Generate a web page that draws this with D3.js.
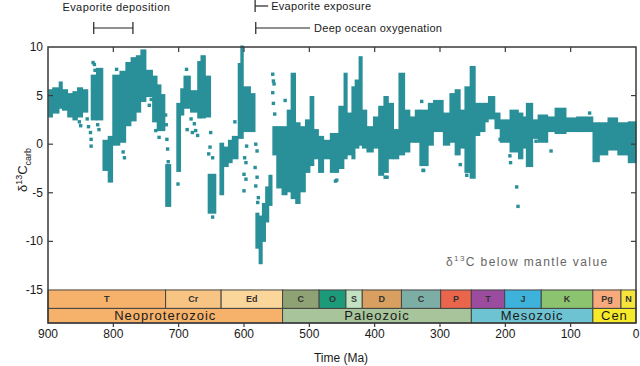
<!DOCTYPE html>
<html>
<head>
<meta charset="utf-8">
<script src="https://cdn.jsdelivr.net/npm/d3@7"></script>
<style>
  body { margin: 0; background: #fff; }
  svg { display: block; font-family: "Liberation Sans", Arial, sans-serif; }
</style>
</head>
<body>
<svg id="chart" width="640" height="366"></svg>
<script>
// δ13C carb envelope: [older age, younger age, low, high]
const neoproterozoicBands = [
  [899, 893, 2.9, 5.5], [893, 883, 3.3, 5.7], [883, 878, 3.8, 6.3], [878, 870, 3.6, 5.5],
  [870, 862, 2.9, 5.1], [862, 855, 2.6, 5.3], [855, 847, 2.9, 5.7], [847, 839, 3.4, 5.5],
  [834, 826, 2.6, 7.0], [826, 816, 2.6, 7.7], [816, 808, -2.6, 0.3], [808, 801, -3.8, 0.7],
  [801, 790, 0.0, 7.0], [790, 781, 0.3, 7.4], [781, 773, 2.0, 8.3], [773, 765, 2.5, 8.8],
  [765, 758, 3.4, 9.0], [758, 750, 4.5, 9.6], [750, 740, 5.0, 7.5], [740, 733, 2.4, 6.9],
  [733, 727, 1.5, 6.0], [727, 721, 1.5, 5.0], [720, 712, -6.3, -2.2], [703, 697, -2.7, 4.1],
  [697, 692, 3.1, 5.6], [692, 682, 3.8, 6.9], [682, 671, 3.4, 5.4], [671, 666, 2.8, 8.4],
  [666, 659, 2.8, 9.0], [659, 651, 2.9, 6.9], [655, 643, -7.0, -3.2], [637, 631, -5.1, 0.0],
  [631, 624, -2.2, -0.4], [624, 618, -1.8, 0.3], [618, 609, -1.4, 0.7], [609, 605, 0.7, 8.2],
  [605, 601, 0.7, 10.0], [601, 590, 1.4, 5.8], [590, 583, 1.4, 5.1], [582, 577, -10.6, -7.2],
  [577, 572, -12.2, -7.5], [572, 567, -9.9, -6.2], [567, 562, -7.9, -4.5], [562, 557, -6.2, -3.3],
  [556, 550, -1.0, 1.7], [550, 542, -4.4, 1.7]
];
const paleozoicBands = [
  [542, 534, -5.1, 1.7], [534, 528, -4.8, 3.4], [528, 521, -5.5, 7.2], [521, 514, -6.0, 2.1],
  [514, 506, -4.8, 1.7], [506, 499, -2.8, 2.4], [499, 493, -2.1, 4.8], [493, 486, -1.4, 1.4],
  [486, 478, -2.8, 0.7], [478, 468, -1.4, 0.3], [468, 455, -2.8, 1.0], [455, 447, -2.4, 3.8],
  [447, 442, -1.4, 7.2], [442, 435, -1.0, 3.1], [435, 430, -1.4, 5.8], [430, 424, -0.3, 6.5],
  [424, 419, 0.0, 8.9], [419, 412, -0.3, 3.4], [412, 402, -0.7, 1.7], [402, 394, -0.3, 2.7],
  [394, 386, -3.1, 3.8], [386, 379, -2.8, 4.8], [379, 371, -1.4, 4.1], [371, 363, -1.4, 1.4],
  [363, 354, -1.0, 7.2], [354, 346, -0.7, 3.4], [346, 338, 0.3, 2.7], [338, 331, 0.3, 3.4],
  [331, 318, -2.1, 3.4], [318, 310, 0.0, 4.1], [310, 295, 1.4, 4.4], [295, 285, 0.0, 3.1],
  [285, 277, 0.3, 5.1], [277, 269, -1.0, 5.5], [269, 262, -0.3, 3.4], [262, 254, -2.8, 5.8]
];
const mesozoicBands = [
  [254, 246, -3.4, 7.9], [246, 239, 1.0, 4.1], [239, 231, 1.4, 4.1], [231, 226, 2.4, 4.1],
  [226, 216, 2.7, 4.8], [216, 208, 1.7, 3.1], [208, 193, 0.3, 2.4], [193, 180, -0.7, 3.4],
  [180, 173, -1.4, 3.1], [173, 168, -0.3, 2.7], [168, 158, -2.2, 4.1], [158, 150, 0.7, 2.4],
  [150, 135, 0.3, 2.9], [135, 124, 1.4, 2.7], [124, 107, 1.2, 3.6], [107, 91, 1.4, 2.6],
  [91, 66, 1.4, 2.7]
];
const cenozoicBands = [
  [66, 56, -1.7, 2.1], [56, 43, -1.0, 2.1], [43, 28, -0.5, 2.6], [28, 12, -1.0, 2.1], [12, 0, -1.8, 2.2]
];
// isolated samples: [age, value]
const scatterPoints = [
  [795, 7.7], [831, 8.4], [829, 8.2], [828, 7.6], [852, 2.3], [850, 1.9], [840, 2.6], [838, 1.8],
  [835, 1.2], [834, 0.5], [834, -0.2], [824, 2.0], [822, 1.5], [785, -0.8], [783, -1.4], [745, 4.0],
  [742, 4.6], [735, 1.4], [730, 0.7], [720, 3.0], [719, 2.0], [718, 0.5], [717, -0.5], [716, -1.8],
  [701, -4.1], [688, 7.7], [687, 1.5], [681, 2.6], [679, 1.2], [676, 2.1], [674, 1.4], [671, 0.9],
  [651, 1.2], [652, -0.3], [654, -1.0], [648, -1.4], [648, -7.5], [614, 2.3], [596, -0.2], [599, -1.4],
  [597, -1.9], [600, -3.1], [597, -3.6], [600, -4.8], [582, 0.0], [580, -0.7], [583, -2.4], [580, -3.4],
  [582, -4.3], [578, -5.5], [579, -6.0], [556, 7.2], [555, 6.5], [554, 6.2], [556, 5.3], [555, 4.2],
  [553, 3.1], [537, 4.5], [460, -3.8], [458, -3.7], [384, -3.4], [381, -3.4], [328, 4.4], [326, -2.7],
  [325, -2.7], [269, -2.1], [259, -3.2], [208, 0.5], [193, -1.2], [192, -1.9], [182.6, -4.4],
  [180.6, -6.4], [153, 0.3], [130, -0.7], [71, 3.2]
];

// geologic time scale
const periodNames = ['T', 'Cr', 'Ed', 'C', 'O', 'S', 'D', 'C', 'P', 'T', 'J', 'K', 'Pg', 'N'];
const periodStart = [900, 720, 635, 541, 485, 444, 419, 359, 299, 252, 201, 145, 66, 23];
const periodEnd = [720, 635, 541, 485, 444, 419, 359, 299, 252, 201, 145, 66, 23, 0];
const periodColors = ['#f6b26b', '#f8c483', '#fbd69b', '#8fa274', '#1c9b7b', '#c3e2c2', '#d89f60',
  '#7daea6', '#e9654c', '#9b4c9e', '#3db2da', '#8cc36e', '#f8aa7c', '#f7e43a'];
const eraNames = ['Neoproterozoic', 'Paleozoic', 'Mesozoic', 'Cen'];
const eraStart = [900, 541, 252, 66];
const eraEnd = [541, 252, 66, 0];
const eraColors = ['#f6b26b', '#a7c49a', '#6ec3d3', '#f6ea2a'];

const xTicks = [900, 800, 700, 600, 500, 400, 300, 200, 100, 0];
const yTicks = [10, 5, 0, -5, -10, -15];

// event markers
const evaporiteDeposition = [830, 770];
const evaporiteExposure = [583, 563];
const deepOceanOxygenation = [582, 499];

const svg = d3.select('#chart');
const x = d3.scaleLinear().domain([900, 0]).range([48, 636]);
const y = d3.scaleLinear().domain([-18.4, 10]).range([323, 47]);
const teal = '#298f98';
const axisColor = '#3a3a3a';
const ink = '#1a1a1a';

// data
const allBands = neoproterozoicBands.concat(paleozoicBands, mesozoicBands, cenozoicBands);
svg.append('g').selectAll('rect')
  .data(allBands)
  .enter()
  .append('rect')
  .attr('x', d => x(d[0]) - 0.4)
  .attr('width', d => x(d[1]) - x(d[0]) + 0.8)
  .attr('y', d => y(d[3]) - 1.5)
  .attr('height', d => y(d[2]) - y(d[3]) + 3)
  .attr('fill', teal);

svg.append('g').selectAll('rect')
  .data(scatterPoints)
  .enter()
  .append('rect')
  .attr('x', d => x(d[0]) - 1.7)
  .attr('y', d => y(d[1]) - 1.7)
  .attr('width', 3.4)
  .attr('height', 3.4)
  .attr('fill', teal);

// time scale bars
const periods = periodNames.map((n, i) => ({ name: n, s: periodStart[i], e: periodEnd[i], c: periodColors[i] }));
const eras = eraNames.map((n, i) => ({ name: n, s: eraStart[i], e: eraEnd[i], c: eraColors[i] }));

const pg = svg.append('g');
pg.selectAll('rect')
  .data(periods)
  .enter()
  .append('rect')
  .attr('x', d => x(d.s))
  .attr('width', d => x(d.e) - x(d.s))
  .attr('y', y(-15))
  .attr('height', y(-16.9) - y(-15))
  .attr('fill', d => d.c)
  .attr('stroke', '#444')
  .attr('stroke-width', 1);
pg.selectAll('text')
  .data(periods)
  .enter()
  .append('text')
  .attr('x', d => x((d.s + d.e) / 2))
  .attr('y', (y(-15) + y(-16.9)) / 2 + 3)
  .attr('text-anchor', 'middle')
  .style('font-size', '9px')
  .style('font-weight', 'bold')
  .style('fill', '#333')
  .text(d => d.name);

const eg = svg.append('g');
eg.selectAll('rect')
  .data(eras)
  .enter()
  .append('rect')
  .attr('x', d => x(d.s))
  .attr('width', d => x(d.e) - x(d.s))
  .attr('y', y(-16.9))
  .attr('height', y(-18.4) - y(-16.9))
  .attr('fill', d => d.c)
  .attr('stroke', '#444')
  .attr('stroke-width', 1);
eg.selectAll('text')
  .data(eras)
  .enter()
  .append('text')
  .attr('x', d => x((d.s + d.e) / 2))
  .attr('y', (y(-16.9) + y(-18.4)) / 2 + 4.5)
  .attr('text-anchor', 'middle')
  .style('font-size', '13px')
  .style('letter-spacing', '1px')
  .style('fill', ink)
  .text(d => d.name);

// frame and ticks
svg.append('rect')
  .attr('x', x(900)).attr('y', y(10))
  .attr('width', x(0) - x(900)).attr('height', y(-18.4) - y(10))
  .attr('fill', 'none').attr('stroke', axisColor).attr('stroke-width', 1.5);

const inner = xTicks.slice(1, -1);
svg.append('g').selectAll('line')
  .data(inner).enter().append('line')
  .attr('x1', d => x(d)).attr('x2', d => x(d))
  .attr('y1', y(10)).attr('y2', y(10) + 5)
  .attr('stroke', axisColor).attr('stroke-width', 1.2);
svg.append('g').selectAll('line')
  .data(inner).enter().append('line')
  .attr('x1', d => x(d)).attr('x2', d => x(d))
  .attr('y1', y(-18.4)).attr('y2', y(-18.4) + 4)
  .attr('stroke', axisColor).attr('stroke-width', 1.2);

const yInner = yTicks.slice(1, -1);
svg.append('g').selectAll('line')
  .data(yInner).enter().append('line')
  .attr('x1', x(900)).attr('x2', x(900) + 5)
  .attr('y1', d => y(d)).attr('y2', d => y(d))
  .attr('stroke', axisColor).attr('stroke-width', 1.2);
svg.append('g').selectAll('line')
  .data(yInner).enter().append('line')
  .attr('x1', x(0)).attr('x2', x(0) - 5)
  .attr('y1', d => y(d)).attr('y2', d => y(d))
  .attr('stroke', axisColor).attr('stroke-width', 1.2);

svg.append('g').selectAll('text')
  .data(xTicks).enter().append('text')
  .attr('x', d => x(d)).attr('y', 338)
  .attr('text-anchor', 'middle')
  .style('font-size', '12px').style('fill', ink)
  .text(d => d);

svg.append('g').selectAll('text')
  .data(yTicks).enter().append('text')
  .attr('x', 43).attr('y', d => y(d) + 4)
  .attr('text-anchor', 'end')
  .style('font-size', '12px').style('fill', ink)
  .text(d => d);

svg.append('text')
  .attr('x', 341).attr('y', 362)
  .attr('text-anchor', 'middle')
  .style('font-size', '12px').style('fill', ink)
  .text('Time (Ma)');

const yl = svg.append('text')
  .attr('transform', 'translate(27,170) rotate(-90)')
  .attr('text-anchor', 'middle')
  .style('font-size', '13px').style('fill', ink);
yl.append('tspan').text('δ');
yl.append('tspan').attr('dy', -5).style('font-size', '9px').text('13');
yl.append('tspan').attr('dy', 5).text('C');
yl.append('tspan').attr('dy', 4).style('font-size', '9px').text('carb');

const note = svg.append('text')
  .attr('x', 446).attr('y', 266)
  .style('font-size', '12px').style('letter-spacing', '1.4px').style('fill', '#666');
note.append('tspan').text('δ');
note.append('tspan').attr('dy', -5).style('font-size', '8px').text('13');
note.append('tspan').attr('dy', 5).text('C below mantle value');

// event annotations
const ann = svg.append('g').attr('stroke', '#222').attr('stroke-width', 1.2);
ann.append('line')
  .attr('x1', x(evaporiteDeposition[0])).attr('x2', x(evaporiteDeposition[1]))
  .attr('y1', 28).attr('y2', 28);
evaporiteDeposition.forEach(a => {
  ann.append('line').attr('x1', x(a)).attr('x2', x(a)).attr('y1', 22).attr('y2', 34);
});
ann.append('line')
  .attr('x1', x(evaporiteExposure[0])).attr('x2', x(evaporiteExposure[0]))
  .attr('y1', 0).attr('y2', 12);
ann.append('line')
  .attr('x1', x(evaporiteExposure[0])).attr('x2', x(evaporiteExposure[1]))
  .attr('y1', 6).attr('y2', 6);
ann.append('line')
  .attr('x1', x(deepOceanOxygenation[0])).attr('x2', x(deepOceanOxygenation[0]))
  .attr('y1', 22).attr('y2', 34);
ann.append('line')
  .attr('x1', x(deepOceanOxygenation[0])).attr('x2', x(deepOceanOxygenation[1]))
  .attr('y1', 28).attr('y2', 28);

svg.append('text')
  .attr('x', x((evaporiteDeposition[0] + evaporiteDeposition[1]) / 2) + 3).attr('y', 11)
  .attr('text-anchor', 'middle')
  .style('font-size', '11px').style('letter-spacing', '0.4px').style('fill', ink)
  .text('Evaporite deposition');
svg.append('text')
  .attr('x', x(evaporiteExposure[1]) + 3).attr('y', 10)
  .style('font-size', '11px').style('letter-spacing', '0.3px').style('fill', ink)
  .text('Evaporite exposure');
svg.append('text')
  .attr('x', x(deepOceanOxygenation[1]) + 4).attr('y', 32)
  .style('font-size', '11px').style('letter-spacing', '0.3px').style('fill', ink)
  .text('Deep ocean oxygenation');
</script>
</body>
</html>
